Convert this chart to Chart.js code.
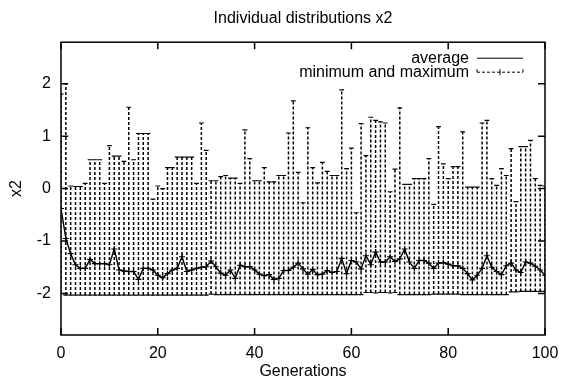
<!DOCTYPE html>
<html><head><meta charset="utf-8">
<script src="https://cdn.jsdelivr.net/npm/chart.js@4/dist/chart.umd.min.js"></script>
<style>html,body{margin:0;padding:0;background:#fff}</style>
</head><body>
<canvas id="c" width="561" height="381"></canvas>
<script>
const generations = [0,1,2,3,4,5,6,7,8,9,10,11,12,13,14,15,16,17,18,19,20,21,22,23,24,25,26,27,28,29,30,31,32,33,34,35,36,37,38,39,40,41,42,43,44,45,46,47,48,49,50,51,52,53,54,55,56,57,58,59,60,61,62,63,64,65,66,67,68,69,70,71,72,73,74,75,76,77,78,79,80,81,82,83,84,85,86,87,88,89,90,91,92,93,94,95,96,97,98,99,100];

const averageX2 = [-0.38,-0.95,-1.24,-1.45,-1.52,-1.52,-1.35,-1.43,-1.43,-1.43,-1.45,-1.15,-1.55,-1.57,-1.58,-1.58,-1.73,-1.52,-1.52,-1.55,-1.65,-1.70,-1.62,-1.55,-1.52,-1.30,-1.58,-1.55,-1.52,-1.50,-1.49,-1.38,-1.49,-1.61,-1.65,-1.55,-1.71,-1.46,-1.49,-1.49,-1.55,-1.63,-1.66,-1.64,-1.73,-1.71,-1.56,-1.56,-1.50,-1.42,-1.53,-1.63,-1.54,-1.64,-1.63,-1.56,-1.60,-1.58,-1.33,-1.62,-1.37,-1.40,-1.53,-1.28,-1.45,-1.21,-1.40,-1.40,-1.30,-1.39,-1.34,-1.15,-1.40,-1.52,-1.37,-1.37,-1.42,-1.52,-1.42,-1.41,-1.44,-1.47,-1.47,-1.52,-1.62,-1.74,-1.65,-1.52,-1.28,-1.50,-1.58,-1.64,-1.47,-1.42,-1.55,-1.60,-1.40,-1.42,-1.48,-1.55,-1.65];

const maximumX2 = [1.80,2.00,0.05,0.04,0.04,0.10,0.55,0.55,0.55,0.10,0.82,0.62,0.62,0.52,1.55,0.55,1.05,1.05,1.05,-0.20,0.05,0.00,0.40,0.40,0.60,0.60,0.60,0.60,0.10,1.25,0.73,0.15,0.15,0.23,0.25,0.20,0.20,0.10,1.12,0.57,0.15,0.15,0.40,0.13,0.13,0.25,0.25,1.06,1.67,0.31,-0.27,1.16,0.40,0.11,0.50,0.33,0.25,0.25,1.88,0.38,0.77,-0.46,1.24,0.63,1.36,1.30,1.27,1.25,-0.06,0.37,1.54,0.08,0.08,0.19,0.19,0.19,0.57,-0.30,1.18,0.47,0.19,0.42,0.42,1.08,0.03,0.03,0.03,1.25,1.30,0.19,0.06,0.38,0.25,0.76,-0.25,0.80,0.80,0.92,0.19,0.06,0.05];

const minimumX2 = [-2.00,-2.03,-2.03,-2.03,-2.03,-2.03,-2.03,-2.03,-2.03,-2.03,-2.03,-2.03,-2.03,-2.03,-2.03,-2.03,-2.03,-2.03,-2.03,-2.03,-2.03,-2.03,-2.03,-2.03,-2.03,-2.03,-2.03,-2.03,-2.03,-2.03,-2.03,-2.01,-2.02,-2.02,-2.02,-2.02,-2.02,-2.02,-2.02,-2.02,-2.02,-2.02,-2.02,-2.02,-2.02,-2.02,-2.02,-2.02,-2.02,-2.02,-2.02,-2.02,-2.02,-2.02,-2.02,-2.02,-2.02,-2.02,-2.02,-2.02,-2.02,-2.02,-2.02,-1.98,-1.98,-1.99,-1.98,-1.98,-1.99,-1.98,-2.02,-2.02,-2.02,-2.02,-2.02,-2.02,-2.02,-2.01,-2.01,-2.01,-2.01,-2.01,-2.01,-2.02,-2.02,-2.02,-2.02,-2.02,-2.02,-2.02,-2.02,-2.02,-2.02,-1.97,-1.97,-1.96,-1.96,-1.96,-1.96,-1.96,-1.96];

const xTickValues = [0,20,40,60,80,100];
const yTickValues = [-2,-1,0,1,2];
const yRange = [-2.79, 2.79];

const chartTitle = 'Individual distributions x2';
const xTitle = 'Generations';
const yTitle = 'x2';
const legendLabels = ['average', 'minimum and maximum'];

const rangeData = [];
generations.forEach((g, i) => {
  rangeData.push({x: g, y: minimumX2[i]});
  rangeData.push({x: g, y: maximumX2[i]});
  rangeData.push({x: g, y: null});
});
const avgData = generations.map((g, i) => ({x: g, y: averageX2[i]}));

const FONT = {family: '"Liberation Sans", Arial, Helvetica, sans-serif', size: 16};

const framePlugin = {
  id: 'frame',
  afterDraw(chart) {
    const {ctx, chartArea: a, scales: {x, y}} = chart;
    ctx.save();
    ctx.strokeStyle = '#000';
    ctx.lineWidth = 1.5;
    ctx.setLineDash([]);
    ctx.strokeRect(a.left, a.top, a.right - a.left, a.bottom - a.top);
    const tl = 7;
    ctx.beginPath();
    xTickValues.forEach(v => {
      const px = x.getPixelForValue(v);
      ctx.moveTo(px, a.bottom); ctx.lineTo(px, a.bottom - tl);
      ctx.moveTo(px, a.top); ctx.lineTo(px, a.top + tl);
    });
    yTickValues.forEach(v => {
      const py = y.getPixelForValue(v);
      ctx.moveTo(a.left, py); ctx.lineTo(a.left + tl, py);
      ctx.moveTo(a.right, py); ctx.lineTo(a.right - tl, py);
    });
    ctx.stroke();

    // gnuplot-style key
    ctx.font = '16px "Liberation Sans", Arial, sans-serif';
    ctx.fillStyle = '#000';
    ctx.textAlign = 'right';
    ctx.textBaseline = 'middle';
    const tx = a.right - 76, s0 = a.right - 68, s1 = a.right - 22;
    const y1 = a.top + 16, y2 = a.top + 30;
    ctx.fillText(legendLabels[0], tx, y1);
    ctx.fillText(legendLabels[1], tx, y2);
    ctx.lineWidth = 1;
    ctx.beginPath();
    ctx.moveTo(s0, y1); ctx.lineTo(s1, y1);
    ctx.stroke();
    ctx.setLineDash([3, 2]);
    ctx.beginPath();
    ctx.moveTo(s0, y2); ctx.lineTo(s1, y2);
    ctx.stroke();
    ctx.setLineDash([]);
    const mid = (s0 + s1) / 2;
    ctx.beginPath();
    ctx.moveTo(mid, y2 - 3); ctx.lineTo(mid, y2 + 3);
    ctx.moveTo(s0, y2); ctx.lineTo(s0, y2 - 3);
    ctx.moveTo(s1, y2); ctx.lineTo(s1, y2 - 3);
    ctx.stroke();
    ctx.restore();
  }
};

new Chart(document.getElementById('c'), {
  type: 'line',
  data: {
    datasets: [
      {
        label: legendLabels[0],
        data: avgData,
        borderColor: '#000',
        borderWidth: 1.4,
        pointStyle: 'cross',
        pointRadius: 3,
        pointBorderWidth: 1.1,
        pointBorderColor: '#000',
        tension: 0,
        fill: false
      },
      {
        label: legendLabels[1],
        data: rangeData,
        borderColor: '#000',
        borderWidth: 1.5,
        borderDash: [3, 2],
        spanGaps: false,
        pointStyle: 'line',
        pointRadius: 2.4,
        pointBorderWidth: 1.2,
        pointBorderColor: '#000',
        tension: 0,
        fill: false
      }
    ]
  },
  options: {
    responsive: false,
    animation: false,
    devicePixelRatio: 1,
    layout: {padding: {left: 0, right: 16, top: 0, bottom: 0}},
    plugins: {
      legend: {display: false},
      tooltip: {enabled: false},
      title: {
        display: true,
        text: chartTitle,
        fullSize: false,
        color: '#000',
        font: {family: FONT.family, size: 16, weight: 'normal'},
        padding: {top: 9, bottom: 14}
      }
    },
    scales: {
      x: {
        type: 'linear',
        min: 0, max: 100,
        grid: {display: false, drawTicks: false},
        border: {display: false},
        afterBuildTicks: s => { s.ticks = xTickValues.map(v => ({value: v})); },
        afterFit: s => { s.height = 46; s.paddingRight = 0; s.paddingLeft = 0; },
        ticks: {color: '#000', font: FONT, padding: 9, maxRotation: 0},
        title: {display: true, text: xTitle, color: '#000', font: FONT, padding: {top: 0, bottom: 0}}
      },
      y: {
        type: 'linear',
        min: yRange[0], max: yRange[1],
        grid: {display: false, drawTicks: false},
        border: {display: false},
        afterBuildTicks: s => { s.ticks = yTickValues.map(v => ({value: v})); },
        afterFit: s => { s.width = 61; },
        ticks: {color: '#000', font: FONT, padding: 10},
        title: {display: true, text: yTitle, color: '#000', font: FONT, padding: {top: 7, bottom: 0}}
      }
    }
  },
  plugins: [framePlugin]
});
</script>
</body></html>
